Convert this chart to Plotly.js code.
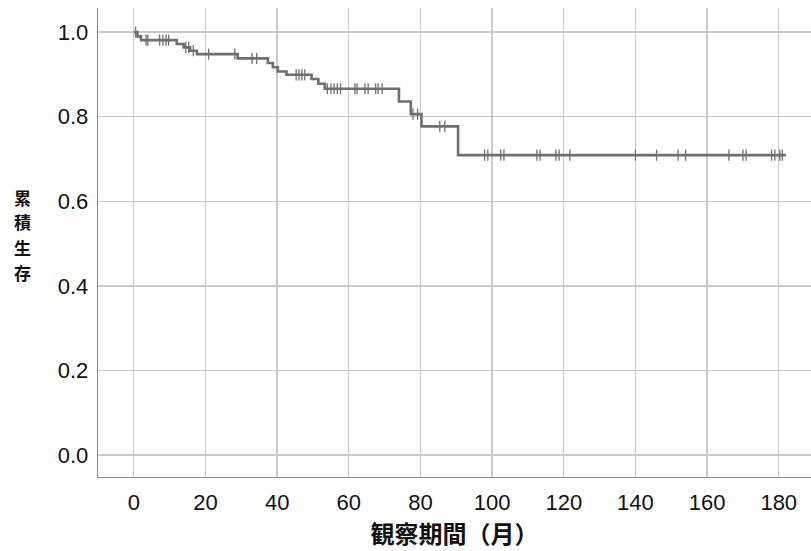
<!DOCTYPE html>
<html>
<head>
<meta charset="utf-8">
<script src="https://cdn.plot.ly/plotly-3.0.1.min.js"></script>
<style>html,body{margin:0;padding:0;background:#fff;}#chart{width:811px;height:551px;}</style>
</head>
<body>
<div id="chart"></div>
<script>
// Kaplan-Meier step function: event times and survival after each event
const eventTimes = [0, 1, 2, 12, 13.9, 15.7, 17.6, 29, 37.4, 38.8, 40.2, 42.6, 49.6, 51.5, 53.3, 74, 77.3, 80.3, 90.5];
const survival   = [1.0, 0.99, 0.981, 0.972, 0.964, 0.956, 0.948, 0.938, 0.927, 0.917, 0.907, 0.899, 0.889, 0.878, 0.866, 0.836, 0.806, 0.777, 0.709];
const endTime = 182;
// censored observation times
const censoredTimes = [0.5, 3.4, 3.9, 7.2, 8.1, 9.0, 9.7, 14.5, 15.3, 16.6, 20.9, 28.2, 33.0, 34.3,
  45.3, 46.1, 46.9, 47.7, 54.0, 55.0, 55.9, 56.8, 57.7, 61.7, 62.3, 64.5, 65.4, 67.5, 68.2, 69.3,
  77.9, 79.2, 85.4, 86.8, 97.9, 98.8, 102.4, 103.3, 112.5, 113.4, 117.8, 118.7, 121.7, 140, 145.9,
  151.9, 154, 166.1, 170, 170.9, 178, 178.9, 180.3, 181];
const xTicks = [0, 20, 40, 60, 80, 100, 120, 140, 160, 180];
const yTicks = [0.0, 0.2, 0.4, 0.6, 0.8, 1.0];
const yTickText = ["0.0", "0.2", "0.4", "0.6", "0.8", "1.0"];
const xTitle = "観察期間（月）";
const yTitleChars = ["累", "積", "生", "存"];

function survAt(t) {
  let s = survival[0];
  for (let i = 0; i < eventTimes.length; i++) { if (eventTimes[i] <= t) s = survival[i]; }
  return s;
}
const lineX = eventTimes.concat([endTime]);
const lineY = survival.concat([survival[survival.length - 1]]);
const censY = censoredTimes.map(survAt);

const col = "#6f6f6f";
const traces = [
  { x: lineX, y: lineY, mode: "lines", line: { shape: "hv", color: col, width: 2.6 }, hoverinfo: "skip", showlegend: false },
  { x: censoredTimes, y: censY, mode: "markers", marker: { symbol: "line-ns", size: 8, color: col, line: { color: col, width: 1.3 } }, showlegend: false }
];

const tickFont = { family: "Liberation Sans, Arial, sans-serif", size: 22, color: "#111" };
const cjkFont = { family: "Noto Sans CJK JP", size: 17, color: "#111", weight: "bold" };
const layout = {
  width: 811, height: 551,
  margin: { l: 98, r: 0, t: 8, b: 74 },
  paper_bgcolor: "#fff", plot_bgcolor: "#fff",
  xaxis: {
    range: [-10, 189], tickvals: xTicks, ticktext: xTicks.map(String), tickfont: tickFont,
    showgrid: true, gridcolor: "#c9c9c9", gridwidth: 1.3, zeroline: false,
    showline: true, linecolor: "#8a8a8a", linewidth: 1.3, ticks: "", ticklabelstandoff: 5,
    title: { text: xTitle, font: { family: "Noto Sans CJK JP", size: 24, color: "#111", weight: "bold" }, standoff: 10 }
  },
  yaxis: {
    range: [-0.052, 1.057], tickvals: yTicks, ticktext: yTickText, tickfont: tickFont,
    showgrid: true, gridcolor: "#c9c9c9", gridwidth: 1.3, zeroline: false,
    showline: true, linecolor: "#8a8a8a", linewidth: 1.3, ticks: "", ticklabelstandoff: 4
  },
  annotations: yTitleChars.map((c, i) => ({
    text: c, xref: "paper", yref: "paper", x: -0.106, y: (477 - (197 + i * 25)) / 469,
    xanchor: "center", yanchor: "middle", showarrow: false, font: cjkFont
  }))
};
Plotly.newPlot("chart", traces, layout, { displayModeBar: false, staticPlot: true });
</script>
</body>
</html>
